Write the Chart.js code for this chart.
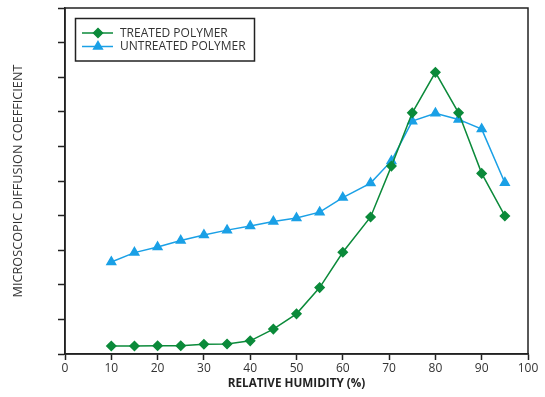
<!DOCTYPE html>
<html>
<head>
<meta charset="utf-8">
<script src="https://cdn.jsdelivr.net/npm/chart.js@4.4.1/dist/chart.umd.min.js"></script>
<style>
  html, body { margin: 0; padding: 0; background: #ffffff; }
  #wrap { width: 545px; height: 397px; }
</style>
</head>
<body>
<div id="wrap"><canvas id="c" width="545" height="397"></canvas></div>
<script>
// ---- data ----
const humidity = [10, 15, 20, 25, 30, 35, 40, 45, 50, 55, 60, 66, 70.5, 75, 80, 85, 90, 95];
const treatedPolymer = [0.23, 0.23, 0.24, 0.24, 0.28, 0.29, 0.38, 0.72, 1.16, 1.92, 2.94, 3.96, 5.43, 6.97, 8.14, 6.97, 5.22, 3.99];
const untreatedPolymer = [2.66, 2.93, 3.09, 3.28, 3.44, 3.58, 3.70, 3.83, 3.93, 4.10, 4.52, 4.94, 5.58, 6.73, 6.96, 6.78, 6.50, 4.95];
const seriesNames = ['TREATED POLYMER', 'UNTREATED POLYMER'];
const xTickValues = [0, 10, 20, 30, 40, 50, 60, 70, 80, 90, 100];
const xTitle = 'RELATIVE HUMIDITY (%)';
const yTitle = 'MICROSCOPIC DIFFUSION COEFFICIENT';

const GREEN = '#0b8a3a';
const BLUE = '#1aa0e6';
const TXT = '#333333';
const FONT = '"Open Sans", "Noto Sans", sans-serif';

const frame = {
  id: 'frame',
  afterDraw(chart) {
    const ctx = chart.ctx;
    const a = chart.chartArea;
    ctx.save();
    // box border
    ctx.strokeStyle = '#222';
    ctx.lineWidth = 1.5;
    ctx.strokeRect(a.left, a.top, a.right - a.left, a.bottom - a.top);
    // axis titles
    ctx.fillStyle = '#222';
    ctx.font = 'bold 11.7px ' + FONT;
    ctx.textAlign = 'center';
    ctx.textBaseline = 'middle';
    ctx.fillText(xTitle, (a.left + a.right) / 2, 384);
    ctx.save();
    ctx.translate(18, (a.top + a.bottom) / 2);
    ctx.rotate(-Math.PI / 2);
    ctx.font = '12.7px ' + FONT;
    ctx.fillStyle = TXT;
    ctx.fillText(yTitle, 0, 0);
    ctx.restore();
    // legend
    const lx = 75.5, ly = 18.5, lw = 179, lh = 42.5;
    ctx.fillStyle = '#fff';
    ctx.fillRect(lx, ly, lw, lh);
    ctx.strokeStyle = '#222';
    ctx.lineWidth = 1.5;
    ctx.strokeRect(lx, ly, lw, lh);
    const rows = [33, 46.5];
    chart.data.datasets.forEach((ds, i) => {
      const y = rows[i];
      ctx.strokeStyle = ds.borderColor;
      ctx.lineWidth = 1.5;
      ctx.beginPath();
      ctx.moveTo(82, y);
      ctx.lineTo(113, y);
      ctx.stroke();
      ctx.fillStyle = ds.pointBackgroundColor;
      ctx.strokeStyle = ds.pointBorderColor;
      Chart.helpers.drawPoint(ctx, {pointStyle: ds.pointStyle, radius: ds.pointRadius, borderWidth: 1}, 98, y);
      ctx.fillStyle = TXT;
      ctx.font = '12px ' + FONT;
      ctx.textAlign = 'left';
      ctx.textBaseline = 'middle';
      ctx.fillText(ds.label, 120, y + 0.5);
    });
    ctx.restore();
  }
};

const toPts = (ys) => humidity.map((x, i) => ({x, y: ys[i]}));

new Chart(document.getElementById('c'), {
  type: 'line',
  data: {
    datasets: [
      {
        label: seriesNames[0],
        data: toPts(treatedPolymer),
        borderColor: GREEN,
        backgroundColor: GREEN,
        pointBackgroundColor: GREEN,
        pointBorderColor: GREEN,
        pointStyle: 'rectRot',
        pointRadius: 4.5,
        borderWidth: 1.5,
        tension: 0
      },
      {
        label: seriesNames[1],
        data: toPts(untreatedPolymer),
        borderColor: BLUE,
        backgroundColor: BLUE,
        pointBackgroundColor: BLUE,
        pointBorderColor: BLUE,
        pointStyle: 'triangle',
        pointRadius: 5,
        borderWidth: 1.5,
        tension: 0
      }
    ]
  },
  options: {
    responsive: false,
    animation: false,
    devicePixelRatio: 1,
    layout: { padding: { top: 8, right: 17, left: 0, bottom: 0 } },
    plugins: { legend: { display: false }, tooltip: { enabled: false } },
    scales: {
      x: {
        type: 'linear',
        min: 0, max: 100,
        afterBuildTicks(scale) { scale.ticks = xTickValues.map(v => ({value: v})); },
        afterFit(scale) { scale.height = 43; },
        grid: { drawOnChartArea: false, drawTicks: true, tickLength: 6, color: '#222', tickWidth: 1.5 },
        border: { display: true, color: '#222', width: 1.5 },
        ticks: { color: TXT, font: { family: FONT, size: 12 }, padding: 1, maxRotation: 0, autoSkip: false }
      },
      y: {
        type: 'linear',
        min: 0, max: 10,
        ticks: { stepSize: 1, callback: () => '', padding: 0 },
        afterFit(scale) { scale.width = 65; },
        grid: { drawOnChartArea: false, drawTicks: true, tickLength: 7, color: '#222', tickWidth: 1.5 },
        border: { display: true, color: '#222', width: 1.5 }
      }
    }
  },
  plugins: [frame]
});
</script>
</body>
</html>
